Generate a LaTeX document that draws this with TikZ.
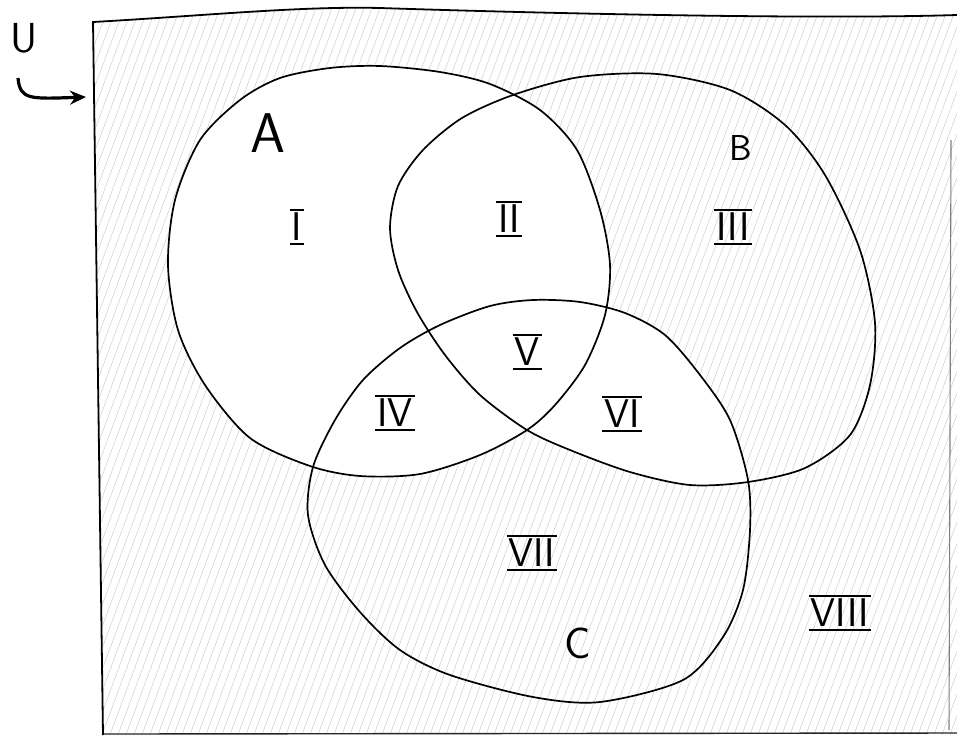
\documentclass[tikz,border=0pt]{standalone}
\usetikzlibrary{arrows.meta}
\newcommand{\rn}[1]{\vbox{\hrule height 2.4pt\kern 2pt\hbox{\kern2pt\sffamily #1\kern2pt}\kern 2pt\hrule height 2.4pt}}
\def\pathA{plot[smooth cycle] coordinates {(330,68) (380,66) (440,72) (490,84) (540,110) (577,150) (600,210) (610,265) (605,315) (585,365) (555,405) (527,430) (480,455) (420,474) (360,476) (310,466) (250,438) (205,385) (178,330) (168,265) (175,200) (200,140) (240,100) (280,78)}}
\def\pathB{plot[smooth cycle] coordinates {(513,95) (580,77) (657,74) (730,90) (785,125) (825,175) (860,250) (875,323) (870,385) (850,435) (805,468) (748,482) (690,485) (630,472) (570,450) (527,430) (480,395) (445,355) (417,312) (398,270) (390,228) (398,186) (423,150) (462,118)}}
\def\pathC{plot[smooth cycle] coordinates {(313,467) (335,420) (363,380) (400,348) (440,325) (490,306) (533,300) (580,302) (625,313) (665,335) (700,375) (730,420) (748,480) (750,530) (743,590) (723,637) (683,680) (600,702) (533,697) (450,675) (400,650) (360,612) (325,565) (308,515)}}
\def\pathF{(93,22) .. controls (200,16) and (300,6) .. (380,8) .. controls (500,12) and (800,20) .. (957,15) -- (957,735) -- (103,735) -- cycle}
\tikzset{
  setline/.style={line width=1.7pt, black},
  hatch/.style={gray!40, line width=0.5pt},
  lab/.style={inner sep=0pt},
  num/.style={font=\fontsize{40}{40}\selectfont, inner sep=0pt}
}
\begin{document}
\begin{tikzpicture}[x=1pt,y=-1pt]
\useasboundingbox (0,0) rectangle (957,737);
% hatching of the shaded region
\begin{scope}
  \clip \pathF;
  \foreach \i in {-300,-292,...,960} {
    \draw[hatch] (\i,740) -- ({\i+275},0);
  }
\end{scope}
% unshaded regions: A, and B intersect C
\fill[white] \pathA;
\begin{scope}
  \clip \pathB;
  \fill[white] \pathC;
\end{scope}
% frame
\draw[line width=1.8pt] (957,15) .. controls (800,20) and (500,12) .. (380,8) .. controls (300,6) and (200,16) .. (93,22) -- (103,735);
\draw[line width=1.4pt, black!85] (103,734) -- (957,733);
\draw[line width=1.1pt, gray] (951,140) -- (949,730);
% sets
\draw[setline] \pathA;
\draw[setline] \pathB;
\draw[setline] \pathC;
% universe label and arrow
\node[lab, font=\sffamily\fontsize{42}{42}\selectfont] (u) at (24,38) {U};
\coordinate (uStart) at (18,78);
\coordinate (uTip) at (86,97);
\draw[line width=3.2pt, -{Stealth[length=16pt,width=14pt]}] (uStart) .. controls (20,100) and (30,99) .. (uTip);
% set labels
\node[lab, font=\sffamily\fontsize{56}{56}\selectfont] (lA) at (268,133) {A};
\node[lab, font=\sffamily\fontsize{36}{36}\selectfont] (lB) at (741,148) {B};
\node[lab, font=\sffamily\fontsize{44}{44}\selectfont] (lC) at (578,643) {C};
% region numerals
\node[num] (r1) at (297,227) {\rn{I}};
\node[num] (r2) at (509,219) {\rn{II}};
\node[num] (r3) at (733,227) {\rn{III}};
\node[num] (r4) at (395,413) {\rn{IV}};
\node[num] (r5) at (527,352) {\rn{V}};
\node[num] (r6) at (622,414) {\rn{VI}};
\node[num] (r7) at (532,553) {\rn{VII}};
\node[num] (r8) at (840,613) {\rn{VIII}};
\end{tikzpicture}
\end{document}
